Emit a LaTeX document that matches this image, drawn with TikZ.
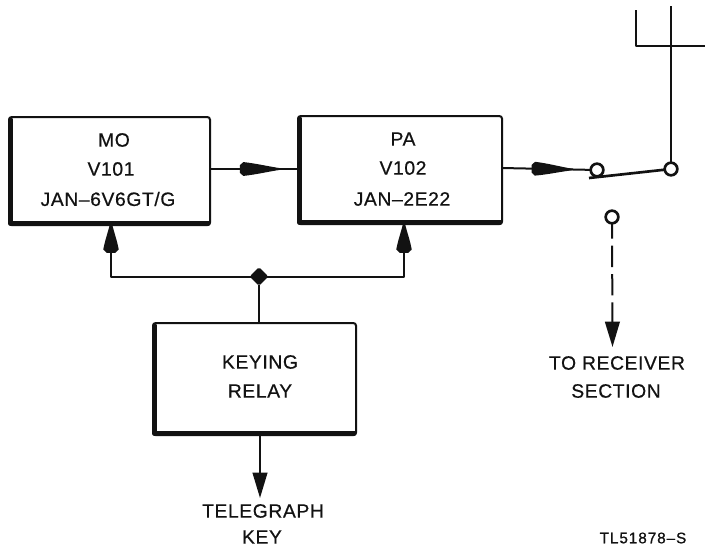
\documentclass[tikz,border=0pt]{standalone}
\usepackage{fontspec}
\setmainfont[LetterSpace=3,FakeBold=0.5]{Liberation Sans}
\newfontfamily\tagfont[LetterSpace=6,FakeBold=1]{Liberation Sans}
\usetikzlibrary{arrows.meta,decorations.markings,calc,shapes.geometric}
\definecolor{ink}{gray}{0.07}
\newcommand{\kiteshape}[2]{\fill[ink] (-#1pt,-#2pt*0.55) -- (-#1pt+2.5pt,-#2pt) .. controls (-#1pt*0.6,-#2pt*0.8) and (-#1pt*0.3,-#2pt*0.35) .. (0pt,-0.5pt) -- (0pt,0.5pt) .. controls (-#1pt*0.3,#2pt*0.35) and (-#1pt*0.6,#2pt*0.8) .. (-#1pt+2.5pt,#2pt) -- (-#1pt,#2pt*0.55) -- cycle;}
\tikzset{
  every node/.style={font=\fontsize{14.5}{17}\selectfont, align=center, text=ink},
  blockbox/.style={draw=ink, line width=1.5pt, rounded corners=2pt, inner sep=0pt, outer sep=0pt},
  heavy/.style={draw=ink, line width=4pt, line cap=round, line join=round},
  wire/.style={draw=ink, line width=1.5pt, line join=round},
  stout/.style={draw=ink, line width=2pt, line join=round},
  terminal/.style={circle, draw=ink, line width=2pt, fill=white, inner sep=0pt, outer sep=0pt, minimum size=9.5pt},
  solder/.style={diamond, fill=ink, draw=ink, line width=1pt, rounded corners=1pt, inner sep=0pt, outer sep=0pt, minimum size=12.5pt},
  label/.style={inner sep=0pt},
  kitearrow/.style={postaction={decorate,decoration={markings,mark=at position #1 with {\kiteshape{31}{5.2}}}}},
  uparrow/.style={postaction={decorate,decoration={markings,mark=at position 0.999 with {\kiteshape{23}{5.8}}}}},
  downarrow/.style={-{Triangle[length=19pt,width=11pt]}}
}
\begin{document}
\begin{tikzpicture}[x=0.75pt,y=-0.75pt]
\useasboundingbox (0,0) rectangle (705,546);
% connectors under the blocks
\coordinate (junc) at (259,276.5);
\coordinate (moin) at (111,222);
\coordinate (pain2) at (404,222);
\draw[wire, uparrow] (junc) -- (111,276.5) -- (moin);
\draw[wire, uparrow] (junc) -- (404,276.5) -- (pain2);
% blocks
\node[blockbox, fill=white, minimum width=201*0.75pt, minimum height=108*0.75pt] (mo) at (109.5,171) {};
\node[blockbox, fill=white, minimum width=204*0.75pt, minimum height=108*0.75pt] (pa) at (400,170) {};
\node[blockbox, fill=white, minimum width=203*0.75pt, minimum height=112*0.75pt] (key) at (254.5,379) {};
\foreach \b in {mo,pa,key}{
  \draw[heavy] ($(\b.north west)+(1.8,3)$) -- ($(\b.south west)+(1.8,-1.8)$) -- ($(\b.south east)+(-2,-1.8)$);
}
% block labels
\node[label] (t1) at (114,140) {MO};
\node[label] (t2) at (111,169) {V101};
\node[label] (t3) at (108,199) {JAN--6V6GT/G};
\node[label] (t4) at (403,139) {PA};
\node[label] (t5) at (403,168) {V102};
\node[label] (t6) at (402,199) {JAN--2E22};
\node[label] (t7) at (260,362) {KEYING};
\node[label] (t8) at (260,391) {RELAY};
% switch terminals
\node[terminal] (c1) at (597,170) {};
\node[terminal] (c2) at (671,169) {};
\node[terminal] (c3) at (612,217) {};
% connectors
\coordinate (moout) at (mo.east |- 0,169);
\coordinate (pain) at (pa.west |- 0,169);
\coordinate (paout) at (pa.east |- 0,168);
\draw[wire, kitearrow=0.81] (moout) -- (pain);
\draw[wire, kitearrow=0.80] (paout) -- (c1);
\node[solder] (j) at (junc) {};
\draw[wire] (j) -- (key.north -| j);
\coordinate (tg) at (260,498);
\draw[wire, downarrow] (260,436) -- (tg);
% switch blade
\coordinate (bladeend) at (589,178);
\draw[stout] (bladeend) -- (c2);
% antenna
\coordinate (anttop) at (671,6);
\coordinate (antl) at (636,10);
\coordinate (antr) at (705,46);
\coordinate (antj) at (671,46);
\draw[wire] (c2) -- (antj);
\draw[stout] (antj) -- (anttop);
\draw[stout] (antl) -- (636,46) -- (antr);
% receiver
\coordinate (rx) at (612.5,347);
\draw[wire, dash pattern=on 16pt off 5.25pt, dash phase=4.5pt, downarrow] (c3) -- (rx);
% outer labels
\node[label] (t9) at (617,363) {TO RECEIVER};
\node[label] (t10) at (616,391) {SECTION};
\node[label] (t11) at (263,511) {TELEGRAPH};
\node[label] (t12) at (262,537) {KEY};
\node[label, font=\tagfont\fontsize{11.5}{13}\selectfont] (t13) at (643,538) {TL51878–S};
\end{tikzpicture}
\end{document}
